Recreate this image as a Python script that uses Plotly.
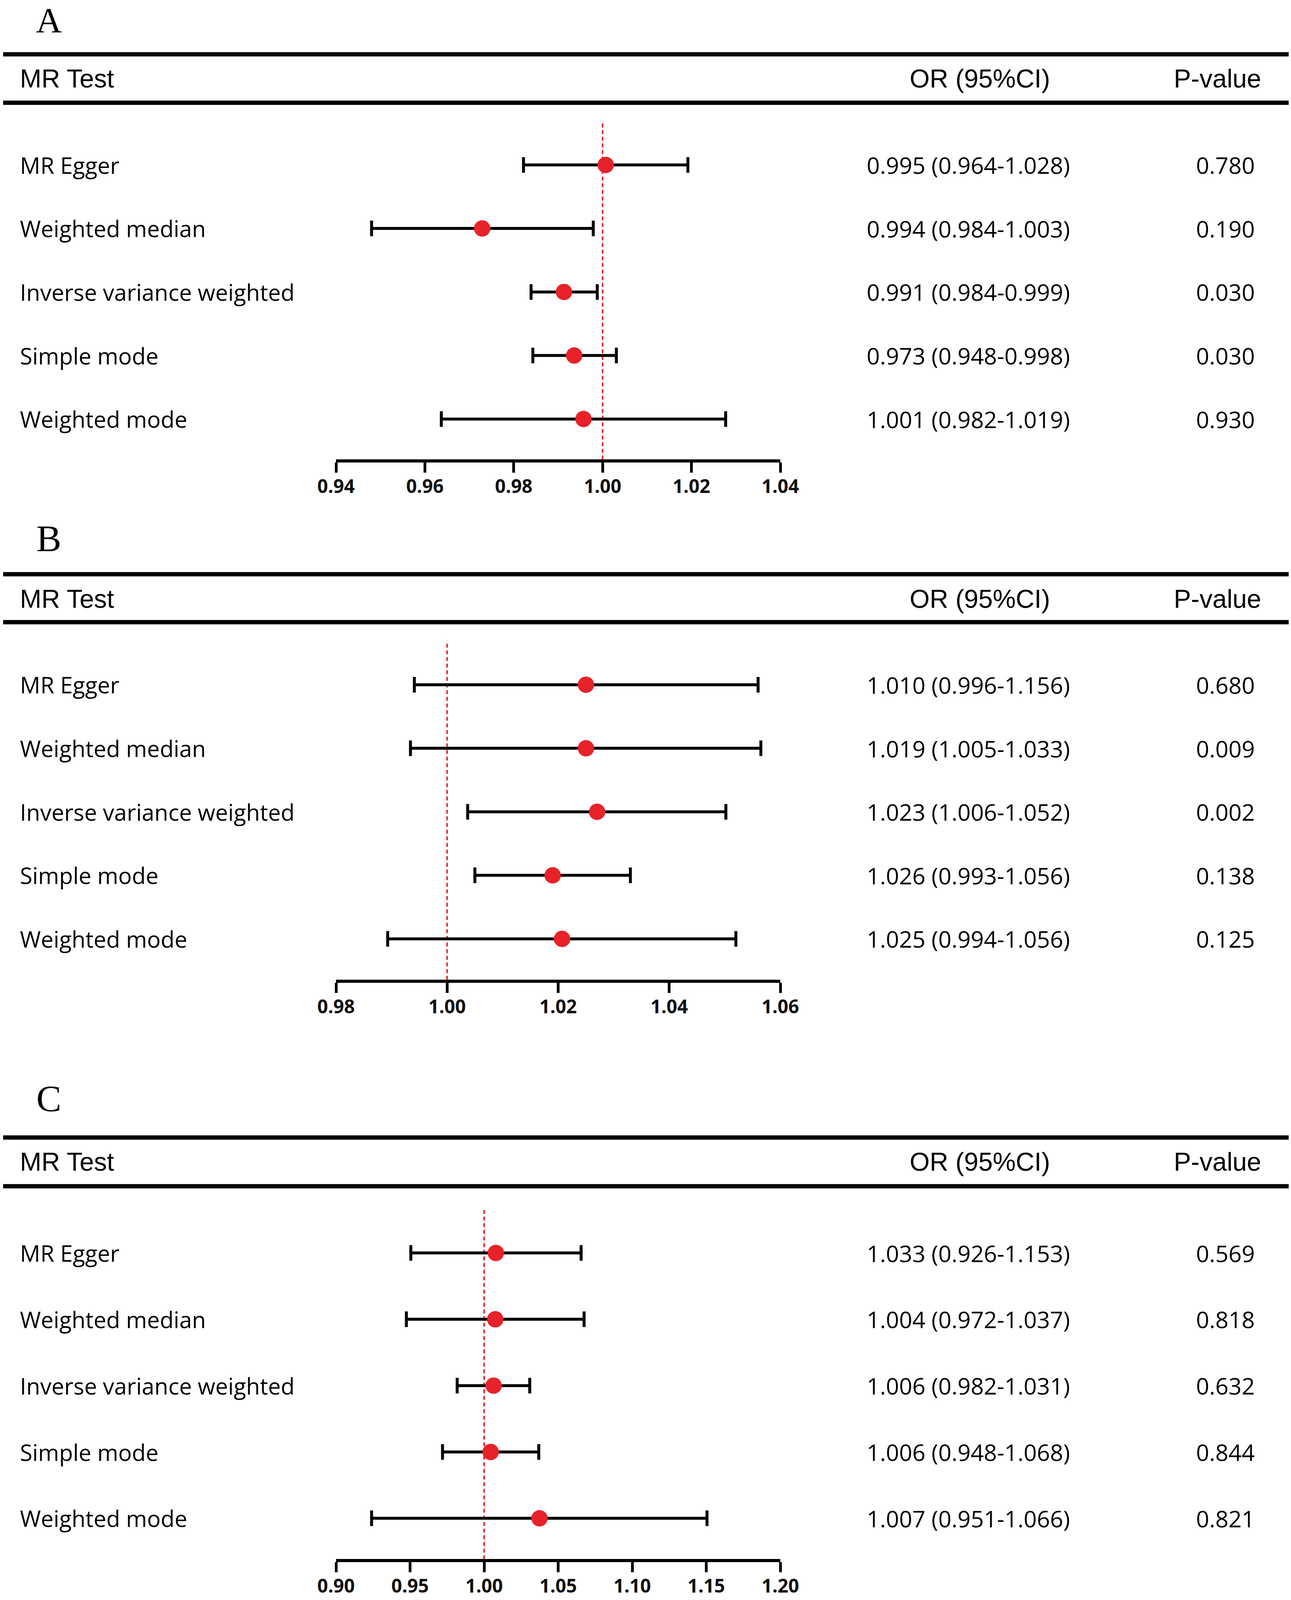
import plotly.graph_objects as go

W, H = 3304, 4269

metodi = ["MR Egger", "Weighted median", "Inverse variance weighted", "Simple mode", "Weighted mode"]

# valori disegnati (punto, limite basso, limite alto)
a_or = [1.0007, 0.9729, 0.9913, 0.9936, 0.9957]
a_lo = [0.9822, 0.9480, 0.9839, 0.9843, 0.9637]
a_hi = [1.0192, 0.9979, 0.9988, 1.0031, 1.0277]
a_ci = ["0.995 (0.964-1.028)", "0.994 (0.984-1.003)", "0.991 (0.984-0.999)", "0.973 (0.948-0.998)", "1.001 (0.982-1.019)"]
a_p = ["0.780", "0.190", "0.030", "0.030", "0.930"]
a_ticks = [0.94, 0.96, 0.98, 1.00, 1.02, 1.04]

b_or = [1.0250, 1.0250, 1.0270, 1.0190, 1.0207]
b_lo = [0.9941, 0.9934, 1.0037, 1.0050, 0.9893]
b_hi = [1.0560, 1.0565, 1.0502, 1.0330, 1.0520]
b_ci = ["1.010 (0.996-1.156)", "1.019 (1.005-1.033)", "1.023 (1.006-1.052)", "1.026 (0.993-1.056)", "1.025 (0.994-1.056)"]
b_p = ["0.680", "0.009", "0.002", "0.138", "0.125"]
b_ticks = [0.98, 1.00, 1.02, 1.04, 1.06]

c_or = [1.0079, 1.0075, 1.0064, 1.0044, 1.0374]
c_lo = [0.9505, 0.9475, 0.9818, 0.9719, 0.9240]
c_hi = [1.0655, 1.0675, 1.0308, 1.0369, 1.1505]
c_ci = ["1.033 (0.926-1.153)", "1.004 (0.972-1.037)", "1.006 (0.982-1.031)", "1.006 (0.948-1.068)", "1.007 (0.951-1.066)"]
c_p = ["0.569", "0.818", "0.632", "0.844", "0.821"]
c_ticks = [0.90, 0.95, 1.00, 1.05, 1.10, 1.15, 1.20]

righe = [5, 4, 3, 2, 1]

# geometria dei pannelli in pixel (layout)
pannelli = [
    dict(lettera="A", or_=a_or, lo=a_lo, hi=a_hi, ci=a_ci, p=a_p, ticks=a_ticks,
         let_y=41, l1=145, head=210, l2=274, top=322, r_top=440, r_bot=1118, asse=1226),
    dict(lettera="B", or_=b_or, lo=b_lo, hi=b_hi, ci=b_ci, p=b_p, ticks=b_ticks,
         let_y=1437, l1=1532, head=1598, l2=1660, top=1710, r_top=1827, r_bot=2505, asse=2614),
    dict(lettera="C", or_=c_or, lo=c_lo, hi=c_hi, ci=c_ci, p=c_p, ticks=c_ticks,
         let_y=2931, l1=3035, head=3100, l2=3165, top=3225, r_top=3343, r_bot=4051, asse=4160),
]

X0, X1 = 860, 1997
ROSSO = "#E8222A"

def py(pix):
    return 1 - pix / H

def px(pix):
    return pix / W

fig = go.Figure()
shapes = []
annotations = []
layout_axes = {}

for i, pan in enumerate(pannelli):
    n = i + 1
    xa = "x" if n == 1 else f"x{n}"
    ya = "y" if n == 1 else f"y{n}"
    xkey = "xaxis" if n == 1 else f"xaxis{n}"
    ykey = "yaxis" if n == 1 else f"yaxis{n}"

    passo = (pan["r_bot"] - pan["r_top"]) / 4
    y_max = 5 + (pan["r_top"] - pan["top"]) / passo
    y_min = 1 - (pan["asse"] - pan["r_bot"]) / passo

    err_plus = [h - o for h, o in zip(pan["hi"], pan["or_"])]
    err_minus = [o - l for o, l in zip(pan["or_"], pan["lo"])]

    fig.add_trace(go.Scatter(
        x=pan["or_"], y=righe, xaxis=xa, yaxis=ya, mode="markers",
        marker=dict(color=ROSSO, size=42, line=dict(width=0)),
        error_x=dict(type="data", symmetric=False, array=err_plus, arrayminus=err_minus,
                     color="black", thickness=7.5, width=20),
        showlegend=False, hoverinfo="skip"
    ))

    layout_axes[xkey] = dict(
        domain=[px(X0), px(X1)], anchor=ya,
        range=[pan["ticks"][0], pan["ticks"][-1]],
        tickvals=pan["ticks"], ticktext=[f"{t:.2f}" for t in pan["ticks"]],
        showline=True, linecolor="black", linewidth=8,
        ticks="outside", ticklen=26, tickwidth=7, tickcolor="black",
        ticklabelstandoff=-6,
        tickfont=dict(family="Open Sans", size=48, color="#111111", weight="bold"),
        showgrid=False, zeroline=False, fixedrange=True, automargin=False
    )
    layout_axes[ykey] = dict(
        domain=[py(pan["asse"]), py(pan["top"])], anchor=xa,
        range=[y_min, y_max], visible=False, fixedrange=True
    )

    # linea di riferimento a OR = 1
    shapes.append(dict(type="line", xref=xa, yref=f"{ya} domain", x0=1, x1=1, y0=0, y1=1,
                       line=dict(color=ROSSO, width=4, dash="10px,7px"), layer="below"))

    # linee spesse della tabella
    for yl in (pan["l1"], pan["l2"]):
        shapes.append(dict(type="line", xref="paper", yref="paper", x0=px(8), x1=px(3298),
                           y0=py(yl), y1=py(yl), line=dict(color="black", width=11)))

    # lettera del pannello (la prima ancorata al bordo alto per non uscire dalla pagina)
    if n == 1:
        annotations.append(dict(text=pan["lettera"], xref="paper", yref="paper", x=px(125), y=1,
                                xanchor="center", yanchor="top", showarrow=False, borderpad=0,
                                font=dict(family="Liberation Serif", size=92, color="black")))
    else:
        annotations.append(dict(text=pan["lettera"], xref="paper", yref="paper", x=px(125), y=py(pan["let_y"]),
                                xanchor="center", yanchor="middle", showarrow=False,
                                font=dict(family="Liberation Serif", size=96, color="black")))
    hfont = dict(family="Liberation Sans", size=66, color="black")
    annotations.append(dict(text="MR Test", xref="paper", yref="paper", x=px(49), y=py(pan["head"]),
                            xanchor="left", yanchor="middle", showarrow=False, font=hfont))
    annotations.append(dict(text="OR (95%CI)", xref="paper", yref="paper", x=px(2507), y=py(pan["head"]),
                            xanchor="center", yanchor="middle", showarrow=False, font=hfont))
    annotations.append(dict(text="P-value", xref="paper", yref="paper", x=px(3116), y=py(pan["head"]),
                            xanchor="center", yanchor="middle", showarrow=False, font=hfont))

    rfont = dict(family="Open Sans", size=58, color="black")
    cfont = dict(family="Open Sans", size=59, color="black")
    for r, nome, ci, p in zip(righe, metodi, pan["ci"], pan["p"]):
        annotations.append(dict(text=nome, xref="paper", yref=ya, x=px(49), y=r,
                                xanchor="left", yanchor="middle", showarrow=False, font=rfont))
        annotations.append(dict(text=ci, xref="paper", yref=ya, x=px(2478), y=r,
                                xanchor="center", yanchor="middle", showarrow=False, font=cfont))
        annotations.append(dict(text=p, xref="paper", yref=ya, x=px(3136), y=r,
                                xanchor="center", yanchor="middle", showarrow=False, font=cfont))

fig.update_layout(
    width=W, height=H,
    margin=dict(l=0, r=0, t=0, b=0, pad=0),
    paper_bgcolor="white", plot_bgcolor="white",
    shapes=shapes, annotations=annotations,
    **layout_axes
)

# la figura si adatta esattamente all'area visibile della finestra
post = """
document.body.style.margin = '0';
document.body.style.overflow = 'hidden';
var gd = document.getElementById('{plot_id}');
return Plotly.relayout(gd, {width: window.innerWidth, height: window.innerHeight});
"""
fig.write_html("out.html", config={"displayModeBar": False}, post_script=post)
